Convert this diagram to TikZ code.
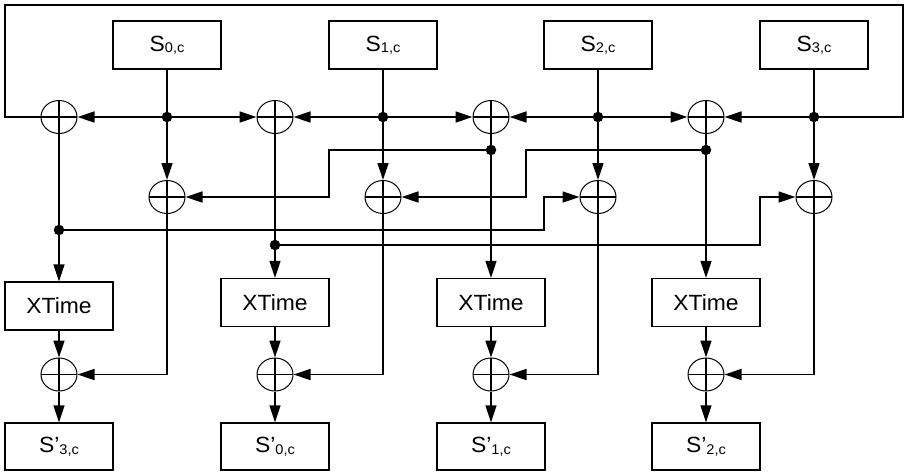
\documentclass[tikz,border=0pt]{standalone}
\usepackage{fontspec}
\setmainfont{Liberation Sans}[FakeStretch=1.04]
\usetikzlibrary{shapes.geometric,arrows.meta}

% state byte label: big letter, small lowered index
\newcommand\bytelbl[2]{#1{\fontsize{14}{14}\selectfont\raisebox{-1.5pt}{#2}}}

\begin{document}
\begin{tikzpicture}[x=1pt,y=-1pt,
  wire/.style={line width=1.4pt},
  arr/.style={wire,-{Triangle[length=17pt,width=11pt]}},
  block/.style={draw,line width=1.3pt,minimum width=108pt,minimum height=48pt,
    inner sep=0pt,font=\fontsize{22}{22}\selectfont},
  xorgate/.style={draw,ellipse,line width=1pt,minimum width=36pt,minimum height=33pt,inner sep=0pt,
    path picture={\draw[line width=1.2pt]
      (path picture bounding box.north) -- (path picture bounding box.south)
      (path picture bounding box.west) -- (path picture bounding box.east);}},
  junction/.style={circle,fill,minimum size=10.5pt,inner sep=0pt}]
\useasboundingbox (0,0) rectangle (904,471);

% input bytes
\node[block] (s0) at (167,45) {\bytelbl{S}{0,c}};
\node[block] (s1) at (383,45) {\bytelbl{S}{1,c}};
\node[block] (s2) at (598,45) {\bytelbl{S}{2,c}};
\node[block] (s3) at (814,45) {\bytelbl{S}{3,c}};

% fan-out points on the top bus
\node[junction] (d0) at (167,117) {};
\node[junction] (d1) at (383,117) {};
\node[junction] (d2) at (598,117) {};
\node[junction] (d3) at (814,117) {};

% first XOR row
\node[xorgate] (tx0) at (59,117) {};
\node[xorgate] (tx1) at (275,117) {};
\node[xorgate] (tx2) at (491,117) {};
\node[xorgate] (tx3) at (706,117) {};

% second XOR row
\node[xorgate] (mx0) at (167,197) {};
\node[xorgate] (mx1) at (383,197) {};
\node[xorgate] (mx2) at (598,197) {};
\node[xorgate] (mx3) at (814,197) {};

% branch points below the first XOR row
\node[junction] (b0) at (59,230) {};
\node[junction] (b1) at (275,245) {};
\node[junction] (b2) at (491,150) {};
\node[junction] (b3) at (706,150) {};

% xtime units
\node[block] (xt0) at (59,306) {XTime};
\node[block] (xt1) at (275,302.5) {XTime};
\node[block] (xt2) at (491,302.5) {XTime};
\node[block] (xt3) at (706,302.5) {XTime};

% final XOR row
\node[xorgate] (bx0) at (59,374.5) {};
\node[xorgate] (bx1) at (275,374.5) {};
\node[xorgate] (bx2) at (491,374.5) {};
\node[xorgate] (bx3) at (706,374.5) {};

% output bytes
\node[block,minimum height=47pt] (o0) at (59,446.5) {\bytelbl{S'}{3,c}};
\node[block,minimum height=47pt] (o1) at (275,446.5) {\bytelbl{S'}{0,c}};
\node[block,minimum height=47pt] (o2) at (491,446.5) {\bytelbl{S'}{1,c}};
\node[block,minimum height=47pt] (o3) at (706,446.5) {\bytelbl{S'}{2,c}};

% corner points of the routed wires
\coordinate (cR) at (903,117);
\coordinate (cNE) at (903,5);
\coordinate (cNW) at (5,5);
\coordinate (cL) at (5,117);
\coordinate (k0) at (544,230);
\coordinate (k1) at (760,245);
\coordinate (k2) at (329,150);
\coordinate (k3) at (526,150);

% inputs onto the bus
\foreach \i in {0,1,2,3} \draw[wire] (s\i) -- (d\i);

% bus into the first XOR row
\draw[arr] (d0) -- (tx0);
\draw[arr] (d0) -- (tx1);
\draw[arr] (d1) -- (tx1);
\draw[arr] (d1) -- (tx2);
\draw[arr] (d2) -- (tx2);
\draw[arr] (d2) -- (tx3);
\draw[arr] (d3) -- (tx3);
\draw[wire] (d3) -- (cR) -- (cNE) -- (cNW) -- (cL) -- (tx0);

% bus into the second XOR row
\foreach \i in {0,1,2,3} \draw[arr] (d\i) -- (mx\i);

% first XOR row down to branch points
\foreach \i in {0,1,2,3} \draw[wire] (tx\i) -- (b\i);

% cross connections into the second XOR row
\draw[arr] (b2) -- (k2) |- (mx0);
\draw[arr] (b3) -- (k3) |- (mx1);
\draw[arr] (b0) -- (k0) |- (mx2);
\draw[arr] (b1) -- (k1) |- (mx3);

% xtime path
\foreach \i in {0,1,2,3} {
  \draw[arr] (b\i) -- (xt\i);
  \draw[arr] (xt\i) -- (bx\i);
  \draw[arr] (mx\i) |- (bx\i);
  \draw[arr] (bx\i) -- (o\i);
}
\end{tikzpicture}
\end{document}
